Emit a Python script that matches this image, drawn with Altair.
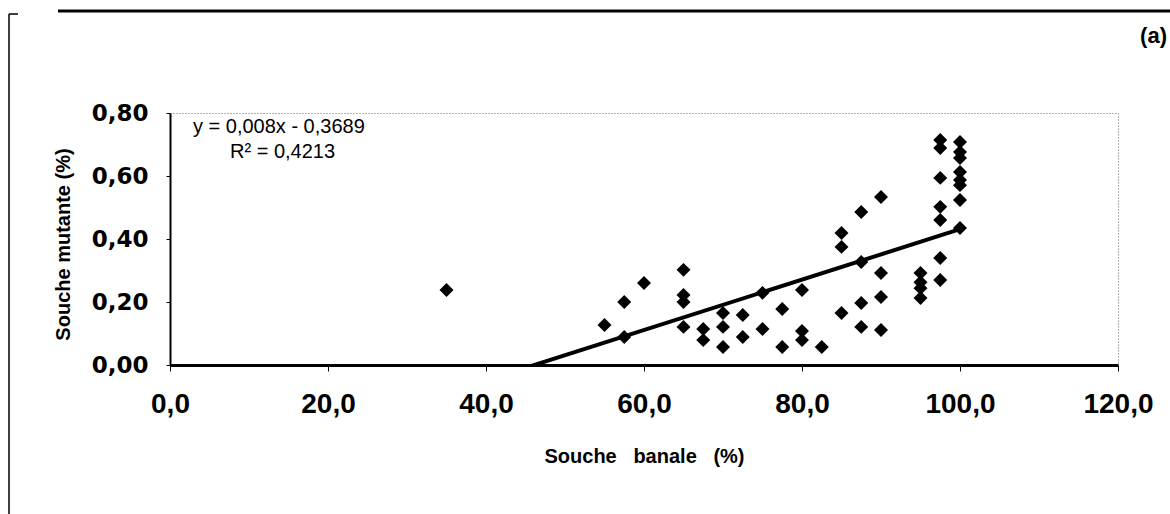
import altair as alt
import pandas as pd

# ---- data ----
souche_banale = [35, 55, 57.5, 57.5, 60, 65, 65, 65, 65, 67.5, 67.5, 70, 70, 70,
                 72.5, 72.5, 75, 75, 77.5, 77.5, 80, 80, 80, 82.5, 85, 85, 85,
                 87.5, 87.5, 87.5, 87.5, 90, 90, 90, 90, 95, 95, 95, 95,
                 97.5, 97.5, 97.5, 97.5, 97.5, 97.5, 97.5,
                 100, 100, 100, 100, 100, 100, 100, 100]
souche_mutante = [0.238, 0.127, 0.200, 0.089, 0.260, 0.302, 0.222, 0.200, 0.121, 0.114, 0.079, 0.165, 0.121, 0.057,
                  0.159, 0.089, 0.229, 0.114, 0.178, 0.057, 0.238, 0.108, 0.079, 0.057, 0.375, 0.419, 0.165,
                  0.486, 0.327, 0.197, 0.121, 0.533, 0.292, 0.216, 0.111, 0.292, 0.263, 0.244, 0.213,
                  0.714, 0.689, 0.594, 0.502, 0.460, 0.340, 0.270,
                  0.708, 0.676, 0.657, 0.613, 0.587, 0.571, 0.524, 0.435]

# trend line as stated on the chart: y = 0,008x - 0,3689
slope = 0.008
intercept = -0.3689
trend_x = [35.0, 100.0]

x_ticks = [0, 20, 40, 60, 80, 100, 120]
y_ticks = [0.0, 0.2, 0.4, 0.6, 0.8]

eq_line1 = "y = 0,008x - 0,3689"
eq_line2 = "R\u00b2 = 0,4213"
panel_label = "(a)"
x_title = "Souche\u00a0\u00a0\u00a0banale\u00a0\u00a0\u00a0(%)"
y_title = "Souche mutante (%)"

pts = pd.DataFrame({"x": souche_banale, "y": souche_mutante})
trend = pd.DataFrame({"x": trend_x, "y": [slope * v + intercept for v in trend_x]})
dummy = pd.DataFrame({"a": [0]})

xscale = alt.Scale(domain=[0, 120], nice=False, zero=False)
yscale = alt.Scale(domain=[0, 0.8], nice=False)

xaxis = alt.Axis(
    values=x_ticks, labelExpr="replace(format(datum.value, '.1f'), '.', ',')",
    labelFont="Liberation Sans", labelFontSize=28, labelFontWeight="bold", labelColor="black",
    labelPadding=19, labelFlush=False, labelOverlap=False,
    domainColor="black", domainWidth=3, tickColor="black", tickSize=6, tickWidth=1,
    grid=False, title=x_title, titleFont="Liberation Sans", titleFontSize=20,
    titleFontWeight="bold", titleColor="black", titleY=97, titleBaseline="alphabetic",
)
yaxis = alt.Axis(
    values=y_ticks, labelExpr="replace(format(datum.value, '.2f'), '.', ',')",
    labelFont="DejaVu Sans", labelFontSize=23, labelFontWeight="bold", labelColor="black",
    labelPadding=18, labelFlush=False, labelOverlap=False, labelBaseline="middle",
    domainColor="black", domainWidth=2, tickColor="black", tickSize=4, tickWidth=1,
    grid=False, title=y_title, titleFont="Liberation Sans", titleFontSize=20,
    titleFontWeight="bold", titleColor="black", titleX=-101, titleY=131,
    titleBaseline="alphabetic", titleAngle=270,
)

points = alt.Chart(pts).mark_point(shape="diamond", filled=True, size=195, color="black", opacity=1).encode(
    x=alt.X("x:Q", scale=xscale, axis=xaxis),
    y=alt.Y("y:Q", scale=yscale, axis=yaxis),
)

line = alt.Chart(trend).mark_line(color="black", strokeWidth=4, clip=True).encode(
    x=alt.X("x:Q", scale=xscale),
    y=alt.Y("y:Q", scale=yscale),
)

txt1 = alt.Chart(dummy).mark_text(text=eq_line1, align="left", baseline="alphabetic",
                                  font="Liberation Sans", fontSize=20, color="black").encode(
    x=alt.value(23), y=alt.value(20))
txt2 = alt.Chart(dummy).mark_text(text=eq_line2, align="left", baseline="alphabetic",
                                  font="Liberation Sans", fontSize=20, color="black").encode(
    x=alt.value(60), y=alt.value(45))
txt_a = alt.Chart(dummy).mark_text(text=panel_label, align="right", baseline="alphabetic",
                                   font="Liberation Sans", fontSize=22, fontWeight="bold", color="black").encode(
    x=alt.value(997), y=alt.value(-70))

# page frame (top thick rule, left thin rule)
frame_top = alt.Chart(dummy).mark_rule(color="black", strokeWidth=3).encode(
    x=alt.value(-112), x2=alt.value(1000), y=alt.value(-102))
frame_left = alt.Chart(dummy).mark_rule(color="black", strokeWidth=1.5).encode(
    x=alt.value(-161), y=alt.value(-99), y2=alt.value(401))
frame_stub = alt.Chart(dummy).mark_rule(color="black", strokeWidth=1.5).encode(
    x=alt.value(-161), x2=alt.value(-152), y=alt.value(-99))

chart = alt.layer(line, points, txt1, txt2, txt_a, frame_top, frame_left, frame_stub).properties(
    width=948, height=252,
    autosize=alt.AutoSizeParams(type="none"),
    padding={"left": 170, "top": 113, "right": 52, "bottom": 149},
    background="white",
).configure_view(stroke="#666666", strokeDash=[1, 2], strokeWidth=1)

chart.save("out.html", embed_options={"renderer": "svg", "actions": False})
